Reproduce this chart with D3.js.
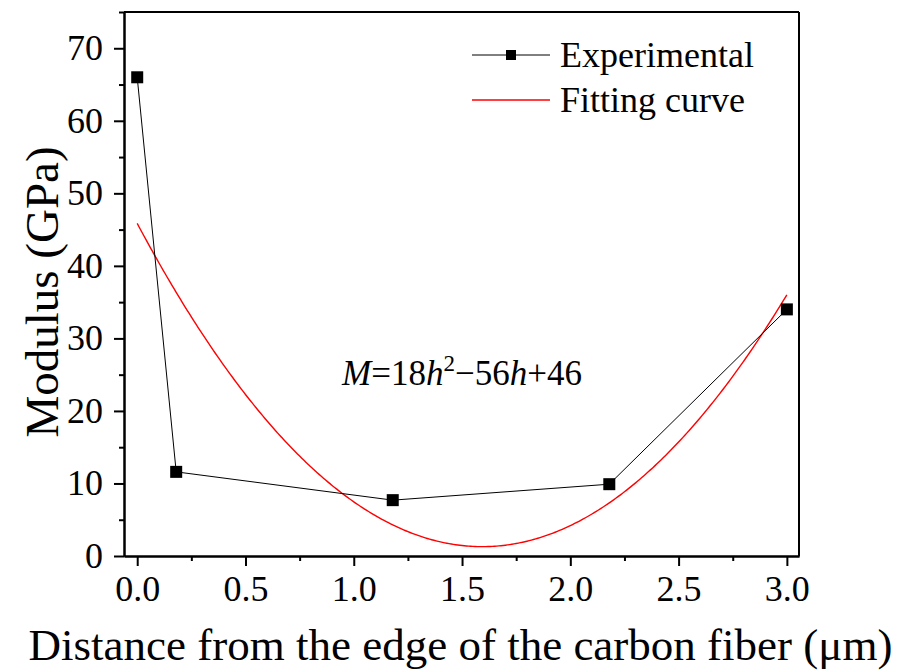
<!DOCTYPE html>
<html>
  <head>
    <meta charset="utf-8">
    <title>Modulus vs distance</title>
    <script type="text/javascript" src="https://cdn.jsdelivr.net/npm/d3@7"></script>
    <style>
    body {
      margin: 0;
      background: #fff;
    }
    .axis path, .axis line {
      stroke: #000;
      stroke-width: 2;
    }
    .line {
      fill: none;
    }
    </style>
  </head>
  <body>
    <div id="chart"></div>
    <script type="text/javascript">

      // measured points (h in um, modulus in GPa)
      var distance = [0, 0.18, 1.18, 2.18, 3.0];
      var modulus = [66.0, 11.6, 7.7, 9.9, 34.0];

      // quadratic fit: a*h^2 + b*h + c
      var fitCoef = [17.55, -55.93, 45.85];
      var fitRange = [0, 3];

      var xTicks = [0.0, 0.5, 1.0, 1.5, 2.0, 2.5, 3.0];
      var xMinor = [0.25, 0.75, 1.25, 1.75, 2.25, 2.75];
      var yTicks = [0, 10, 20, 30, 40, 50, 60, 70];
      var yMinor = [5, 15, 25, 35, 45, 55, 65, 75];

      var seriesNames = ['Experimental', 'Fitting curve'];

      var serif = "'Liberation Serif', 'Times New Roman', Times, serif";

      var margin = {top: 12, right: 101, bottom: 114, left: 124},
          width = 900 - margin.left - margin.right,
          height = 670 - margin.top - margin.bottom;

      var svg = d3.select('#chart').append('svg')
        .attr('width', 900)
        .attr('height', 670)
        .style('font-family', serif)
        .append('g')
        .attr('transform', 'translate(' + margin.left + ',' + margin.top + ')');

      var x = d3.scaleLinear().domain([-0.061, 3.056]).range([0, width]);
      var y = d3.scaleLinear().domain([0, 75]).range([height, 0]);

      // top and right frame
      svg.append('line')
        .attr('x1', 0).attr('x2', width).attr('y1', 0).attr('y2', 0)
        .style('stroke', '#000').style('stroke-width', 2);
      svg.append('line')
        .attr('x1', width).attr('x2', width).attr('y1', 0).attr('y2', height)
        .style('stroke', '#000').style('stroke-width', 2);

      // minor ticks
      svg.append('g')
        .attr('class', 'axis')
        .attr('transform', 'translate(0,' + height + ')')
        .call(d3.axisBottom(x).tickValues(xMinor).tickSize(5).tickSizeOuter(0).tickFormat(''));
      svg.append('g')
        .attr('class', 'axis')
        .call(d3.axisLeft(y).tickValues(yMinor).tickSize(5).tickSizeOuter(0).tickFormat(''));

      // major ticks
      var xAxis = svg.append('g')
        .attr('class', 'axis')
        .attr('transform', 'translate(0,' + height + ')')
        .call(d3.axisBottom(x).tickValues(xTicks).tickSize(10).tickSizeOuter(0)
          .tickPadding(10).tickFormat(d3.format('.1f')));
      xAxis.attr('font-family', null);
      xAxis.selectAll('text')
        .style('font-family', serif)
        .style('font-size', '36px')
        .attr('dy', '0.69em');

      var yAxis = svg.append('g')
        .attr('class', 'axis')
        .call(d3.axisLeft(y).tickValues(yTicks).tickSize(10).tickSizeOuter(0)
          .tickPadding(11).tickFormat(d3.format('d')));
      yAxis.attr('font-family', null);
      yAxis.selectAll('text')
        .style('font-family', serif)
        .style('font-size', '36px');

      // axis titles
      svg.append('text')
        .attr('x', width / 2 - 1)
        .attr('y', height + 104)
        .attr('text-anchor', 'middle')
        .style('font-family', serif)
        .style('font-size', '45px')
        .text('Distance from the edge of the carbon fiber (\u03bcm)');

      svg.append('text')
        .attr('transform', 'translate(-66,' + (height / 2 + 8) + ') rotate(-90)')
        .attr('text-anchor', 'middle')
        .style('font-family', serif)
        .style('font-size', '47px')
        .text('Modulus (GPa)');

      // fitting curve
      var fitData = d3.range(0, 301).map(function(i) {
        var h = fitRange[0] + (fitRange[1] - fitRange[0]) * i / 300;
        return {h: h, m: fitCoef[0] * h * h + fitCoef[1] * h + fitCoef[2]};
      });
      var line = d3.line()
        .x(function(d) { return x(d.h); })
        .y(function(d) { return y(d.m); });

      svg.append('path')
        .datum(fitData)
        .attr('class', 'line')
        .style('stroke', '#ff0000')
        .style('stroke-width', 1.4)
        .attr('d', line);

      // experimental
      var expData = distance.map(function(h, i) { return {h: h, m: modulus[i]}; });
      svg.append('path')
        .datum(expData)
        .attr('class', 'line')
        .style('stroke', '#000')
        .style('stroke-width', 1)
        .attr('d', line);

      var sq = 12;
      svg.selectAll('.pt')
        .data(expData)
        .enter()
        .append('rect')
        .attr('class', 'pt')
        .attr('x', function(d) { return x(d.h) - sq / 2; })
        .attr('y', function(d) { return y(d.m) - sq / 2; })
        .attr('width', sq)
        .attr('height', sq)
        .style('fill', '#000');

      // equation
      var eq = svg.append('text')
        .attr('x', 218)
        .attr('y', 373)
        .style('font-family', serif)
        .style('font-size', '35px');
      eq.append('tspan').style('font-style', 'italic').text('M');
      eq.append('tspan').text('=18');
      eq.append('tspan').style('font-style', 'italic').text('h');
      eq.append('tspan').attr('dy', -14).style('font-size', '23px').text('2');
      eq.append('tspan').attr('dy', 14).text('\u221256');
      eq.append('tspan').style('font-style', 'italic').text('h');
      eq.append('tspan').text('+46');

      // legend
      var legend = svg.selectAll('.legend')
        .data(seriesNames)
        .enter()
        .append('g')
        .attr('class', 'legend')
        .attr('transform', function(d, i) {
          return 'translate(' + 348 + ',' + (43 + i * 45) + ')';
        });
      legend.append('line')
        .attr('x1', 0).attr('x2', 78)
        .attr('y1', 0).attr('y2', 0)
        .style('stroke', function(d, i) { return i === 0 ? '#000' : '#ff0000'; })
        .style('stroke-width', function(d, i) { return i === 0 ? 1 : 1.4; });
      legend.filter(function(d, i) { return i === 0; })
        .append('rect')
        .attr('x', 34).attr('y', -5)
        .attr('width', 10).attr('height', 10)
        .style('fill', '#000');
      legend.append('text')
        .attr('x', 88)
        .attr('y', 12)
        .style('font-family', serif)
        .style('font-size', '36px')
        .text(function(d) { return d; });
    </script>
  </body>
</html>
